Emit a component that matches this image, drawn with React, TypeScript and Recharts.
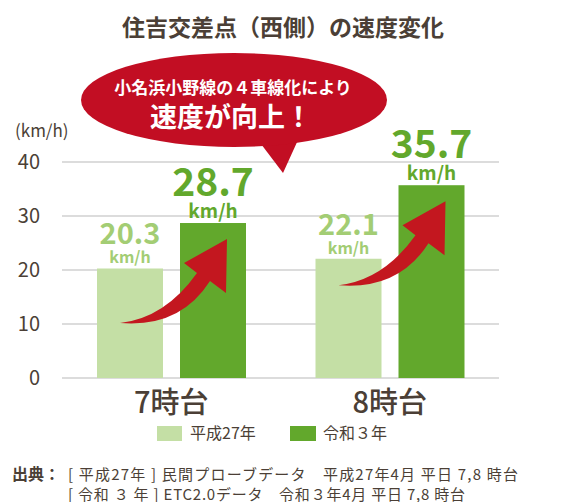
import React from 'react';
import { BarChart, Bar, XAxis, YAxis, CartesianGrid, LabelList } from 'recharts';

const categories = ['7時台', '8時台'];
const h27Values = [20.3, 22.1];
const r3Values = [28.7, 35.7];
const yTicks = [0, 10, 20, 30, 40];
const seriesNames = ['平成27年', '令和３年'];

const FONT = '"Noto Sans CJK JP", "Noto Sans", sans-serif';
const TEXT = '#4b3f36';
const LIGHT = '#c4dfa5';
const DARK = '#62a82c';
const LIGHT_TXT = '#a3cd74';
const RED = '#c20e23';

const chartData = categories.map((c, i) => ({
  cat: c,
  h27: h27Values[i],
  r3: r3Values[i]
}));

// value label: big number + km/h below it
const makeLabel = (big: boolean) => (props: any) => {
  const { x, y, width, value } = props;
  const cx = x + width / 2;
  return (
    <g fontFamily={FONT} fontWeight={700} fill={big ? DARK : LIGHT_TXT} textAnchor="middle">
      <text x={cx} y={y - (big ? 27 : 24)} fontSize={big ? 39 : 29}>
        {value.toFixed(1)}
      </text>
      <text x={cx} y={y - 5} fontSize={big ? 19 : 16}>km/h</text>
    </g>
  );
};

// dark bar + red curved arrow rising toward it
const ArrowBar = (props: any) => {
  const { x, y, width, height, fill } = props;
  const p = (dx: number, dy: number) => `${x + dx},${y + dy}`;
  const d = `M${p(-60, 100)} Q${p(-15, 95)} ${p(17, 50)} L${p(4, 40)} L${p(47, 16)} L${p(46, 70)} L${p(30, 58)} Q${p(0, 105)} ${p(-60, 100)} Z`;
  return (
    <g>
      <rect x={x} y={y} width={width} height={height} fill={fill} />
      <path d={d} fill="#c3171f" />
    </g>
  );
};

export default function App() {
  return (
    <div style={{ position: 'absolute', left: 0, top: 0, width: 583, height: 502, background: '#fff' }}>
      <BarChart
        width={583}
        height={502}
        data={chartData}
        margin={{ top: 162, right: 84, left: 12, bottom: 84 }}
        barCategoryGap={35}
        barGap={17}
      >
        <CartesianGrid vertical={false} stroke="#dcdcdc" strokeWidth={2} />
        <XAxis
          dataKey="cat"
          axisLine={false}
          tickLine={false}
          tickSize={0}
          tickMargin={14}
          height={40}
          tick={{ fontSize: 29, fill: TEXT, fontFamily: FONT, fontWeight: 500 }}
        />
        <YAxis
          width={50}
          domain={[0, 40]}
          ticks={yTicks}
          axisLine={false}
          tickLine={false}
          tickSize={0}
          tickMargin={22}
          tick={{ fontSize: 20, fill: TEXT, fontFamily: FONT }}
        />
        <Bar dataKey="h27" fill={LIGHT} barSize={66} isAnimationActive={false}>
          <LabelList dataKey="h27" content={makeLabel(false)} />
        </Bar>
        <Bar dataKey="r3" fill={DARK} barSize={66} shape={ArrowBar} isAnimationActive={false}>
          <LabelList dataKey="r3" content={makeLabel(true)} />
        </Bar>
      </BarChart>

      <svg
        width={583}
        height={502}
        style={{ position: 'absolute', left: 0, top: 0, pointerEvents: 'none' }}
        fontFamily={FONT}
      >
        <text x={283} y={36} textAnchor="middle" fontSize={23} fontWeight={700} fill={TEXT}>
          住吉交差点（西側）の速度変化
        </text>

        <path d="M258,140 L283,173 L298,140 Z" fill={RED} />
        <ellipse cx={234} cy={100} rx={153} ry={47} fill={RED} />
        <text x={233} y={94} textAnchor="middle" fontSize={17} fontWeight={700} fill="#fff">
          小名浜小野線の４車線化により
        </text>
        <text x={231} y={127} textAnchor="middle" fontSize={27} fontWeight={700} fill="#fff">
          速度が向上！
        </text>

        <text x={15} y={137} fontSize={17} fill={TEXT}>(km/h)</text>

        <rect x={157} y={426} width={25} height={15} fill={LIGHT} />
        <text x={190} y={439} fontSize={16} fill={TEXT}>{seriesNames[0]}</text>
        <rect x={290} y={426} width={26} height={15} fill={DARK} />
        <text x={323} y={439} fontSize={16} fill={TEXT}>{seriesNames[1]}</text>

        <text x={12} y={480} fontSize={16} fontWeight={700} fill={TEXT}>出典：</text>
        <text x={68} y={480} fontSize={15} fill={TEXT} textLength={450} lengthAdjust="spacing">
          [ 平成27年 ] 民間プローブデータ　平成27年4月 平日 7,8 時台
        </text>
        <text x={68} y={500} fontSize={15} fill={TEXT} textLength={397} lengthAdjust="spacing">
          [ 令和 ３ 年 ] ETC2.0データ　令和３年4月 平日 7,8 時台
        </text>
      </svg>
    </div>
  );
}
